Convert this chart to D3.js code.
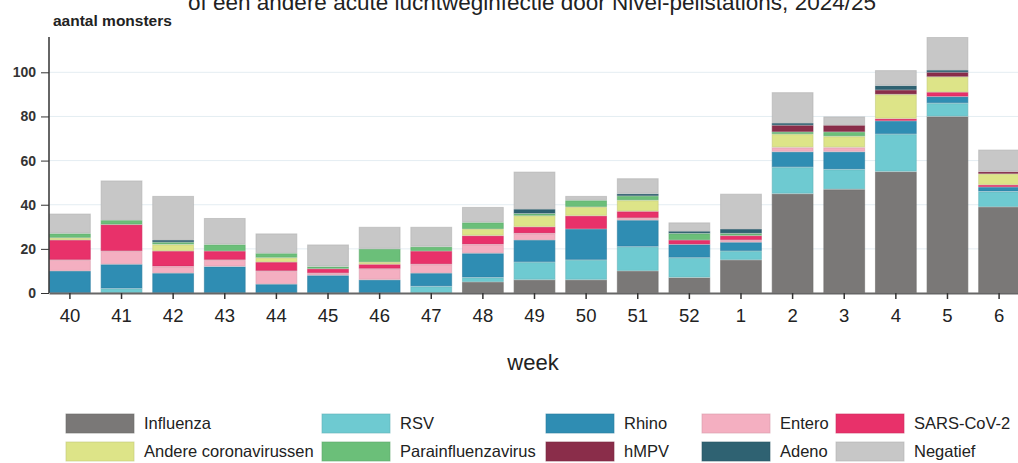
<!DOCTYPE html>
<html>
<head>
<meta charset="utf-8">
<script src="https://cdn.jsdelivr.net/npm/d3@7"></script>
<style>
  body { margin: 0; background: #fff; }
  svg { display: block; font-family: "Liberation Sans", Arial, sans-serif; }
</style>
</head>
<body>
<svg width="1018" height="463"></svg>
<script>
// data
let weeks = ["40","41","42","43","44","45","46","47","48","49","50","51","52","1","2","3","4","5","6"];
let influenza = [0,0,0,0,0,0,0,0,5,6,6,10,7,15,45,47,55,80,39];
let rsv       = [0,2,0,0,0,0,0,3,2,8,9,11,9,4,12,9,17,6,7];
let rhino     = [10,11,9,12,4,8,6,6,11,10,14,12,6,4,7,8,6,3,2];
let entero    = [5,6,3,3,6,1,5,4,4,3,0,1,0,1,2,2,0,0,0];
let sars      = [9,12,7,4,4,2,2,6,4,3,6,3,2,2,0,0,1,2,1];
let andere    = [1,0,3,0,2,0,1,0,3,5,4,5,0,0,6,5,11,7,5];
let para      = [2,2,1,3,2,1,6,2,3,1,3,2,3,1,1,2,0,0,0];
let hmpv      = [0,0,0,0,0,0,0,0,0,0,0,0,0,0,3,3,2,2,1];
let adeno     = [0,0,1,0,0,0,0,0,0,2,0,1,1,2,1,0,2,1,0];
let negatief  = [9,18,20,12,9,10,10,9,7,17,2,7,4,16,14,4,7,15,10];

let seriesNames = ["Influenza","RSV","Rhino","Entero","SARS-CoV-2","Andere coronavirussen","Parainfluenzavirus","hMPV","Adeno","Negatief"];
let seriesValues = [influenza, rsv, rhino, entero, sars, andere, para, hmpv, adeno, negatief];
let colors = ["#7a7877","#6ecad1","#2f8db3","#f4afc1","#e8316a","#dde488","#6bbf79","#8a2d4a","#2f6272","#c7c7c7"];
let yTicks = [0, 20, 40, 60, 80, 100];

let margin = {top: 37, left: 49, bottom: 293, right: 1020};

var svg = d3.select('svg');

// table for d3.stack
let table = weeks.map((w, i) => {
    let row = {week: w};
    seriesNames.forEach((s, j) => { row[s] = seriesValues[j][i]; });
    return row;
});
let stacked = d3.stack().keys(seriesNames)(table);

let x = d3.scaleBand()
    .domain(weeks)
    .range([margin.left, margin.right])
    .paddingInner(0.19)
    .paddingOuter(0);

let yMax = d3.max(table, d => d3.sum(seriesNames, s => d[s]));
let y = d3.scaleLinear()
    .domain([0, yMax])
    .range([margin.bottom, margin.top]);

// title (second line, its top is cut off like in the original)
svg.append('text')
    .attr('x', 532)
    .attr('y', 10)
    .attr('text-anchor', 'middle')
    .attr('font-size', 22.5)
    .attr('fill', '#222')
    .text('of een andere acute luchtweginfectie door Nivel-peilstations, 2024/25');

// gridlines
svg.append('g')
    .selectAll('line')
    .data(yTicks.filter(d => d > 0))
    .enter()
    .append('line')
    .attr('x1', margin.left)
    .attr('x2', 1018)
    .attr('y1', d => y(d))
    .attr('y2', d => y(d))
    .attr('stroke', '#e4edf2')
    .attr('stroke-width', 1);

// bars
let layers = svg.append('g')
    .selectAll('g')
    .data(stacked)
    .enter()
    .append('g')
    .attr('fill', (d, i) => colors[i])
    .attr('stroke', (d, i) => d3.color(colors[i]).darker(0.35));

layers.selectAll('rect')
    .data(d => d.filter(p => p[1] - p[0] > 0))
    .enter()
    .append('rect')
    .attr('x', d => x(d.data.week) + 0.5)
    .attr('y', d => y(d[1]) + 0.5)
    .attr('width', x.bandwidth() - 1)
    .attr('height', d => Math.max(0, y(d[0]) - y(d[1]) - 1))
    .attr('stroke-opacity', 0.6)
    .attr('stroke-width', 1);

// y axis
let yAxis = svg.append('g')
    .attr('transform', `translate(${margin.left},0)`)
    .call(d3.axisLeft(y).tickValues(yTicks).tickSize(8).tickPadding(5).tickSizeOuter(0));
yAxis.select('.domain').attr('stroke', '#333').attr('stroke-width', 1.5).attr('d', `M0,${margin.top}V${margin.bottom}`);
yAxis.selectAll('.tick line').attr('stroke', '#333');
yAxis.selectAll('.tick text')
    .attr('font-size', 14)
    .attr('font-weight', 'bold')
    .attr('font-family', '"Liberation Sans", Arial, sans-serif')
    .attr('fill', '#333');

// x axis
let xAxis = svg.append('g')
    .attr('transform', `translate(0,${margin.bottom})`)
    .call(d3.axisBottom(x).tickSize(6).tickPadding(10).tickSizeOuter(0));
xAxis.select('.domain').attr('stroke', '#666').attr('stroke-width', 2);
xAxis.selectAll('.tick line').attr('stroke', '#333').attr('stroke-width', 1.5);
xAxis.selectAll('.tick text')
    .attr('font-size', 18.5)
    .attr('font-family', '"Liberation Sans", Arial, sans-serif')
    .attr('fill', '#222');

// axis titles
svg.append('text')
    .attr('x', 53)
    .attr('y', 26)
    .attr('font-size', 15.5)
    .attr('font-weight', 'bold')
    .attr('fill', '#222')
    .text('aantal monsters');

svg.append('text')
    .attr('x', 533)
    .attr('y', 370)
    .attr('text-anchor', 'middle')
    .attr('font-size', 22)
    .attr('fill', '#222')
    .text('week');

// legend, two rows of five
let legendCols = [66, 322, 546, 702, 836];
let legendRows = [414, 442];
let legend = svg.append('g')
    .selectAll('g')
    .data(seriesNames)
    .enter()
    .append('g')
    .attr('transform', (d, i) => `translate(${legendCols[i % 5]},${legendRows[Math.floor(i / 5)]})`);

legend.append('rect')
    .attr('width', 68)
    .attr('height', 19)
    .attr('fill', (d, i) => colors[i])
    .attr('stroke', (d, i) => d3.color(colors[i]).darker(0.35))
    .attr('stroke-opacity', 0.6);

legend.append('text')
    .attr('x', 78)
    .attr('y', 15)
    .attr('font-size', 16.5)
    .attr('fill', '#222')
    .text(d => d);
</script>
</body>
</html>
